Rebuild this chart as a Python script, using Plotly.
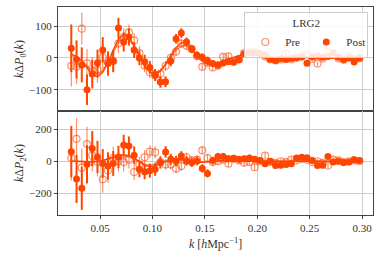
import plotly.graph_objects as go
from plotly.subplots import make_subplots

k = [0.0225, 0.0275, 0.0325, 0.0375, 0.0425, 0.0475, 0.0525, 0.0575, 0.0625, 0.0675,
     0.0725, 0.0775, 0.0825, 0.0875, 0.0925, 0.0975, 0.1025, 0.1075, 0.1125, 0.1175,
     0.1225, 0.1275, 0.1325, 0.1375, 0.1425, 0.1475, 0.1525, 0.1575, 0.1625, 0.1675,
     0.1725, 0.1775, 0.1825, 0.1875, 0.1925, 0.1975, 0.2025, 0.2075, 0.2125, 0.2175,
     0.2225, 0.2275, 0.2325, 0.2375, 0.2425, 0.2475, 0.2525, 0.2575, 0.2625, 0.2675,
     0.2725, 0.2775, 0.2825, 0.2875, 0.2925, 0.2975]

p0_post = [30, -5, -22, -100, -51, -16, 25, -18, -10, 94,
           50, 66, 25, 0, -12, -30, -54, -76, -75, -10,
           60, 78, 50, 28, 8, 2, -8, -18, -22, -16,
           -12, -14, -6, 12, 15, 15, 14, 8, -4, -8,
           -2, -5, -2, 0, 3, -17, 3, 6, 2, 4,
           16, 2, -5, 0, -13, 0]
p0_post_err = [75, 60, 55, 48, 45, 42, 40, 38, 35, 32,
               30, 27, 25, 23, 22, 20, 19, 18, 17, 16,
               15, 15, 14, 13, 13, 12, 12, 11, 11, 10,
               10, 10, 9, 9, 9, 9, 9, 8, 8, 8,
               8, 8, 8, 8, 7, 7, 7, 7, 7, 7,
               7, 7, 7, 7, 7, 7]
p0_pre = [-25, -28, 92, -17, -40, -38, 2, -14, -10, 45,
          65, 80, 55, 15, -25, -45, -55, -50, -25, 0,
          20, 45, 38, 28, 5, -28, -15, -30, -25, 3,
          5, -10, -5, 15, 18, 18, 12, 5, -5, -8,
          -5, 13, -5, 2, 6, 13, -3, -18, -2, 18,
          10, -2, -6, 4, -5, -2]
p0_pre_err = [65, 55, 50, 45, 42, 40, 37, 35, 32, 30,
              28, 25, 23, 21, 20, 19, 18, 17, 16, 15,
              14, 14, 13, 12, 12, 11, 11, 10, 10, 10,
              9, 9, 9, 9, 8, 8, 8, 8, 8, 8,
              7, 7, 7, 7, 7, 7, 7, 7, 7, 7,
              7, 7, 7, 7, 7, 7]
p0_model_post = [12, 5, -10, -30, -52, -60, -45, -15, 25, 58,
                 74, 65, 38, 5, -25, -45, -52, -42, -20, 8,
                 32, 48, 46, 28, 6, -10, -20, -22, -18, -10,
                 -4, 2, 8, 12, 13, 11, 6, 1, -3, -5,
                 -5, -3, -1, 1, 2, 2, 1, 0, 0, 0,
                 0, 0, 0, 0, 0, 0]
p0_model_pre = [8, 2, -8, -25, -42, -50, -40, -15, 18, 48,
                64, 60, 38, 8, -20, -38, -46, -40, -22, 2,
                24, 38, 38, 26, 8, -6, -16, -19, -16, -10,
                -4, 2, 7, 10, 11, 10, 6, 2, -2, -4,
                -4, -3, -1, 1, 2, 2, 1, 0, 0, 0,
                0, 0, 0, 0, 0, 0]

p2_post = [60, -111, -169, -19, 79, 27, -14, -29, -14, 27,
           101, 95, 38, -50, -66, -59, -50, -8, 58, 12,
           2, 33, 2, -8, 2, -45, -76, 4, 29, 30,
           15, 18, 12, 15, 20, 12, 5, -16, 0, -27,
           -25, -20, -15, 20, 25, 22, 5, -27, -25, 29,
           -5, 0, -8, -5, 9, 5]
p2_post_err = [160, 150, 135, 120, 110, 100, 90, 85, 78, 70,
               65, 60, 55, 50, 47, 44, 41, 38, 36, 34,
               32, 30, 29, 28, 27, 26, 25, 24, 23, 22,
               22, 21, 21, 20, 20, 20, 19, 19, 19, 18,
               18, 18, 18, 17, 17, 17, 17, 17, 16, 16,
               16, 16, 16, 16, 16, 16]
p2_pre = [20, 140, -40, 107, 35, -5, -113, -58, 20, 0,
          -5, 10, -68, -20, 25, 60, 55, -5, -20, -20,
          -45, -30, 25, 5, 10, 68, 20, -5, 0, 10,
          -15, 15, 5, -10, -5, -37, 0, 35, -5, -10,
          0, -5, 10, 5, 15, 10, -5, 0, -10, -27,
          10, 5, -5, 0, 5, 0]
p2_pre_err = [140, 130, 120, 108, 98, 90, 82, 76, 70, 64,
              59, 55, 50, 46, 43, 40, 38, 36, 34, 32,
              30, 29, 28, 27, 26, 25, 24, 23, 22, 21,
              21, 20, 20, 19, 19, 19, 18, 18, 18, 17,
              17, 17, 17, 16, 16, 16, 16, 16, 15, 15,
              15, 15, 15, 15, 15, 15]
p2_model_post = [0, 0, -2, -5, -5, -2, 5, 15, 28, 38,
                 40, 35, 20, -5, -25, -33, -28, -15, 0, 10,
                 14, 12, 5, -2, -6, -6, -3, 1, 3, 4,
                 3, 1, 0, 0, 0, 0, 0, 0, 0, 0,
                 0, 0, 0, 0, 0, 0, 0, 0, 0, 0,
                 0, 0, 0, 0, 0, 0]
p2_model_pre = [0, 0, -1, -3, -4, -2, 3, 10, 20, 28,
                30, 26, 14, -4, -18, -24, -20, -10, 0, 7,
                10, 9, 4, -1, -4, -4, -2, 1, 2, 3,
                2, 1, 0, 0, 0, 0, 0, 0, 0, 0,
                0, 0, 0, 0, 0, 0, 0, 0, 0, 0,
                0, 0, 0, 0, 0, 0]

C = "#ff4500"
CPRE = "rgba(255,69,0,0.6)"
FONT = "Liberation Serif"

fig = make_subplots(rows=2, cols=1, shared_xaxes=True, vertical_spacing=0)

def add_panel(row, pre, pre_err, post, post_err, mpre, mpost, legend):
    fig.add_trace(go.Scatter(x=k, y=mpre, mode="lines", line=dict(color=CPRE, width=1.5),
                             showlegend=False, hoverinfo="skip"), row=row, col=1)
    fig.add_trace(go.Scatter(x=k, y=mpost, mode="lines", line=dict(color=C, width=1.5),
                             showlegend=False, hoverinfo="skip"), row=row, col=1)
    fig.add_trace(go.Scatter(x=k, y=pre, mode="markers", name="Pre", showlegend=legend,
                             marker=dict(symbol="circle-open", size=7, color=CPRE,
                                         line=dict(width=1.2, color=CPRE)),
                             error_y=dict(type="data", array=pre_err, color=CPRE,
                                          thickness=1.2, width=0)), row=row, col=1)
    fig.add_trace(go.Scatter(x=k, y=post, mode="markers", name="Post", showlegend=legend,
                             marker=dict(symbol="circle", size=7, color=C),
                             error_y=dict(type="data", array=post_err, color=C,
                                          thickness=2, width=0)), row=row, col=1)

add_panel(1, p0_pre, p0_pre_err, p0_post, p0_post_err, p0_model_pre, p0_model_post, True)
add_panel(2, p2_pre, p2_pre_err, p2_post, p2_post_err, p2_model_pre, p2_model_post, False)

axis_common = dict(showline=True, linecolor="#444444", linewidth=1, mirror=True,
                   showgrid=True, gridcolor="#cccccc", gridwidth=1, zeroline=False,
                   ticks="outside", ticklen=3, tickcolor="#444444",
                   tickfont=dict(family=FONT, size=11, color="#333333"))

fig.update_xaxes(**axis_common, range=[0.0098, 0.3105],
                 tickvals=[0.05, 0.10, 0.15, 0.20, 0.25, 0.30])
fig.update_xaxes(ticktext=["0.05", "0.10", "0.15", "0.20", "0.25", "0.30"], row=2, col=1,
                 title=dict(text="<i>k</i> [<i>h</i>Mpc<sup>−1</sup>]",
                            font=dict(family=FONT, size=12, color="#333333"), standoff=6))
fig.update_xaxes(showticklabels=False, row=1, col=1)
fig.update_yaxes(**axis_common)
fig.update_yaxes(range=[-167, 160], tickvals=[-100, 0, 100], ticktext=["−100", "0", "100"],
                 title=dict(text="<i>k</i>Δ<i>P</i><sub>0</sub>(<i>k</i>)",
                            font=dict(family=FONT, size=12, color="#333333"), standoff=2),
                 row=1, col=1)
fig.update_yaxes(range=[-336, 314], tickvals=[-200, 0, 200], ticktext=["−200", "0", "200"],
                 title=dict(text="<i>k</i>Δ<i>P</i><sub>2</sub>(<i>k</i>)",
                            font=dict(family=FONT, size=12, color="#333333"), standoff=2),
                 row=2, col=1)

fig.update_layout(
    width=380, height=259,
    margin=dict(l=58, r=7, t=7, b=44),
    paper_bgcolor="white", plot_bgcolor="white",
    font=dict(family=FONT, color="#333333"),
    legend=dict(orientation="h", x=0.985, xanchor="right", y=0.975, yanchor="top",
                bgcolor="rgba(255,255,255,0.85)", bordercolor="#cccccc", borderwidth=1,
                title=dict(text="LRG2", side="top center", font=dict(family=FONT, size=11)),
                font=dict(family=FONT, size=11), itemwidth=30,
                entrywidth=16, entrywidthmode="pixels"),
)

fig.write_html("out.html", config={"displayModeBar": False},
               post_script="document.body.style.margin='0';document.body.style.overflow='hidden';")
